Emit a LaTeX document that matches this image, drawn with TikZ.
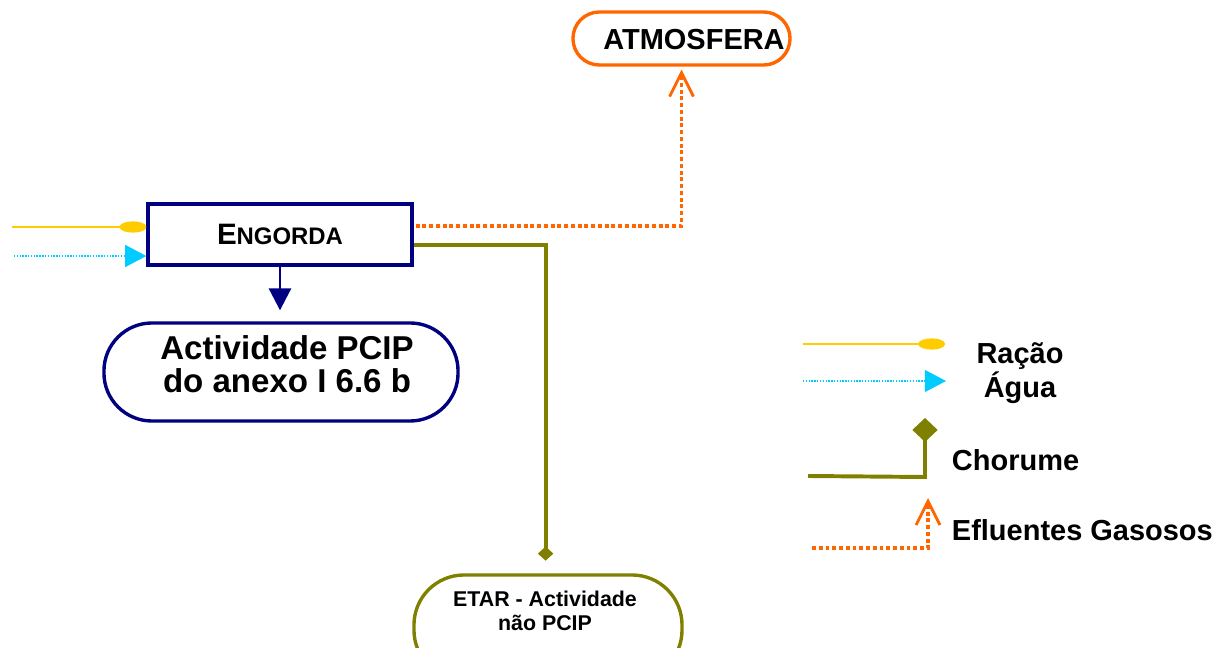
\documentclass[tikz,border=0pt]{standalone}
\usepackage{fontspec}
\setmainfont{Liberation Sans}
\usetikzlibrary{arrows.meta}

\definecolor{navy}{RGB}{0,0,128}
\definecolor{gasorange}{RGB}{255,102,0}
\definecolor{olivegreen}{RGB}{128,128,0}
\definecolor{feedyellow}{RGB}{255,204,0}
\definecolor{watercyan}{RGB}{0,204,255}

\begin{document}
\begin{tikzpicture}[
    x=0.025cm, y=-0.025cm,
    every node/.style={font=\bfseries},
    stagebox/.style={
        draw=navy,
        line width=2.4pt,
        fill=white,
        minimum width=6.6cm,
        minimum height=1.525cm
    },
    roundbox/.style={
        line width=2.4pt,
        fill=white,
        rounded corners=#1
    },
    feed/.style={
        feedyellow, line width=1pt,
        -{Ellipse[length=19pt,width=8pt]}
    },
    water/.style={
        watercyan, line width=1pt, dash pattern=on 1pt off 1pt,
        -{Triangle[length=15pt,width=15.6pt]}
    },
    slurry/.style={
        olivegreen, line width=2.8pt
    },
    gas/.style={
        gasorange, line width=2.8pt, dash pattern=on 2.8pt off 2pt,
        -{Straight Barb[length=17pt,width=17pt,line width=2pt,sep=0pt]}
    },
    legendtext/.style={font=\bfseries\fontsize{20.6}{24}\selectfont}
]
\useasboundingbox (0,0) rectangle (1219,648);

% ---------- main nodes ----------
\node[stagebox] (engorda) at (280,234.5)
    {{\fontsize{21}{24}\selectfont E}{\fontsize{17}{20}\selectfont NGORDA}};

\node[roundbox=1.2cm, draw=navy, minimum width=8.85cm, minimum height=2.45cm] (pcip) at (281,372) {};
\node[align=center, font=\bfseries\fontsize{23.5}{23.5}\selectfont] (pcip text) at (287,364)
    {Actividade PCIP\\do anexo I 6.6 b};

\node[roundbox=0.66cm, draw=gasorange, minimum width=5.425cm, minimum height=1.325cm] (atm) at (681.5,38.5) {};
\node[legendtext] (atm text) at (694,40) {ATMOSFERA};

\node[roundbox=1.25cm, draw=olivegreen, minimum width=6.7cm, minimum height=2.625cm] (etar) at (548,627.5) {};
\node[align=center, font=\bfseries\fontsize{15.2}{17}\selectfont] (etar text) at (545,611)
    {ETAR - Actividade\\não PCIP};

% ---------- inputs ----------
\coordinate (racao in) at (12,227);
\coordinate (agua in) at (14,256);
\draw[feed] (racao in) -- (racao in -| engorda.west);
\draw[water] (agua in) -- (agua in -| engorda.west);

% ---------- outputs ----------
\draw[navy, line width=2pt, -{Triangle[length=15.6pt,width=15.6pt]}, shorten >=7.8pt]
    (engorda.south) -- (engorda.south |- pcip.north);
\draw[gas, shorten >=2pt] ([yshift=0.21cm]engorda.east) ++(2,0) -| (atm.south);
\draw[slurry, -{Diamond[length=10pt,width=11pt]}, shorten >=9pt]
    ([yshift=-0.26cm]engorda.east) -| ([xshift=-0.06cm]etar.north);

% ---------- legend ----------
\coordinate (leg feed a) at (803,344);
\coordinate (leg feed b) at (945,344);
\coordinate (leg water a) at (803,381);
\coordinate (leg water b) at (946,381);
\coordinate (leg slurry a) at (808,476);
\coordinate (leg slurry b) at (925,477);
\coordinate (leg slurry c) at (925,418);
\coordinate (leg gas a) at (812,548);
\coordinate (leg gas b) at (928,548);
\coordinate (leg gas c) at (928,498);

\draw[feed] (leg feed a) -- (leg feed b);
\draw[water] (leg water a) -- (leg water b);
\draw[slurry, -{Diamond[length=17pt,width=18pt]}] (leg slurry a) -- (leg slurry b) -- (leg slurry c);
\draw[gas] (leg gas a) -- (leg gas b) -- (leg gas c);

\node[legendtext] (leg racao) at (1020,356) {Ração};
\node[legendtext] (leg agua) at (1020,388) {Água};
\node[legendtext, anchor=west] (leg chorume) at (947,460) {Chorume};
\node[legendtext, anchor=west] (leg gases) at (947,530) {Efluentes Gasosos};

\end{tikzpicture}
\end{document}
